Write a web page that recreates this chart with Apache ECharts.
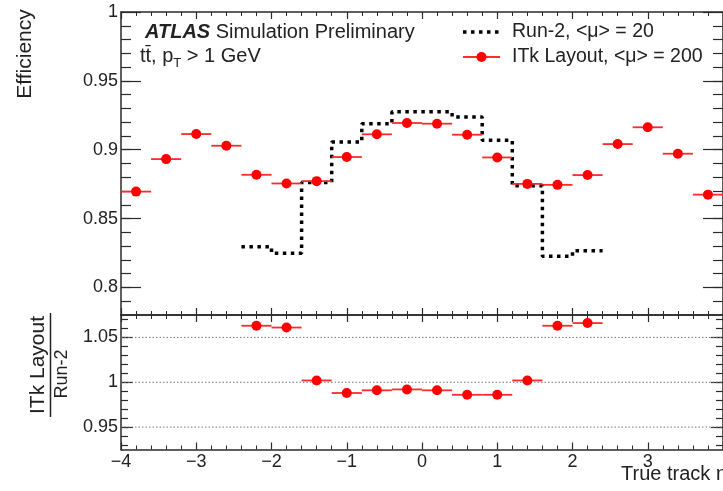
<!DOCTYPE html>
<html><head><meta charset="utf-8">
<script src="https://cdn.jsdelivr.net/npm/echarts@6/dist/echarts.min.js"></script>
<style>html,body{margin:0;padding:0;background:#fff}#c{width:723px;height:491px}</style>
</head><body><div id="c"></div>
<script>
// ---- data ----
const binCenters = [-3.8,-3.4,-3.0,-2.6,-2.2,-1.8,-1.4,-1.0,-0.6,-0.2,0.2,0.6,1.0,1.4,1.8,2.2,2.6,3.0,3.4,3.8];
const itkEff = [0.8696,0.8932,0.9114,0.9029,0.8818,0.8755,0.8772,0.8947,0.9112,0.9194,0.9189,0.9109,0.8944,0.8752,0.8745,0.8816,0.9041,0.9163,0.8971,0.8674];
const run2Edges = [-2.4,-2.0,-1.6,-1.2,-0.8,-0.4,0.0,0.4,0.8,1.2,1.6,2.0,2.4];
const run2Eff = [0.8296,0.8248,0.8762,0.9056,0.9189,0.9275,0.9275,0.9238,0.9068,0.8738,0.8227,0.8267];
const ratioCenters = [-2.2,-1.8,-1.4,-1.0,-0.6,-0.2,0.2,0.6,1.0,1.4,1.8,2.2];
const ratioVals = [1.063,1.061,1.002,0.988,0.991,0.992,0.991,0.986,0.986,1.002,1.063,1.066];
const ratioRefLines = [0.95,1,1.05];
const xTickLabels = ['\u22124','\u22123','\u22122','\u22121','0','1','2','3'];
const effTicks = [0.8,0.85,0.9,0.95,1];
const effTickLabels = ['0.8','0.85','0.9','0.95','1'];
const ratioTicks = [0.95,1,1.05];
const ratioTickLabels = ['0.95','1','1.05'];
const binHalfWidth = 0.2;

const FONT = '"Liberation Sans", Arial, Helvetica, sans-serif';
const AX = '#2a2a2a';
const RED = '#ff0000';

function minorList(a, b, step) { const r = []; for (let v = a; v <= b + 1e-9; v += step) r.push(Math.round(v * 1000) / 1000); return r; }
const effMinor = minorList(0.79, 0.99, 0.01);
const ratioMinor = minorList(0.93, 1.07, 0.01);

function xAx(grid, pos, labels) {
  return {
    type: 'value', gridIndex: grid, position: pos, min: -4, max: 4, interval: 1,
    axisLine: { show: true, onZero: false, lineStyle: { color: AX, width: 1.5 } },
    axisTick: { show: true, inside: true, length: 7, lineStyle: { color: AX, width: 1.2 } },
    minorTick: { show: true, splitNumber: 5, length: 4, lineStyle: { color: AX, width: 1 } },
    splitLine: { show: false },
    axisLabel: labels ? {
      show: true, margin: 4, fontSize: 18, fontFamily: FONT, color: '#222', showMaxLabel: false,
      formatter: v => { const i = Math.round(v) + 4; return xTickLabels[i] !== undefined ? xTickLabels[i] : ''; }
    } : { show: false }
  };
}
function yAx(grid, pos, min, max, ticks, tlabels, len, showLine, showLabels) {
  return {
    type: 'value', gridIndex: grid, position: pos, min: min, max: max,
    axisLine: { show: showLine, onZero: false, lineStyle: { color: AX, width: 1.5 } },
    axisTick: { show: true, inside: true, length: len, customValues: ticks, lineStyle: { color: AX, width: 1.2 } },
    splitLine: { show: false },
    axisLabel: showLabels ? {
      show: true, margin: 3, fontSize: 18, fontFamily: FONT, color: '#222', customValues: ticks,
      formatter: v => { const i = ticks.findIndex(t => Math.abs(t - v) < 1e-6); return i >= 0 ? tlabels[i] : ''; }
    } : { show: false }
  };
}

// step line points for Run-2 histogram
const run2Pts = run2Eff.map((v, i) => [run2Edges[i], v]);
run2Pts.push([run2Edges[run2Edges.length - 1], run2Eff[run2Eff.length - 1]]);

function pointRender(params, api) {
  const x = api.value(0), y = api.value(1);
  const p0 = api.coord([x - binHalfWidth, y]), p1 = api.coord([x + binHalfWidth, y]), c = api.coord([x, y]);
  return { type: 'group', children: [
    { type: 'line', shape: { x1: p0[0], y1: p0[1], x2: p1[0], y2: p1[1] }, style: { stroke: '#ff2a2a', lineWidth: 1.8 } },
    { type: 'circle', shape: { cx: c[0], cy: c[1], r: 5 }, style: { fill: RED } }
  ] };
}

// text measure for subscript placement
const mctx = document.createElement('canvas').getContext('2d');
function tw(txt, size) { mctx.font = size + 'px ' + FONT; return mctx.measureText(txt).width; }
const line2a = 'tt\u0304, p';
const line2aW = tw(line2a, 20);
const subW = tw('T', 13);

const chart = echarts.init(document.getElementById('c'), null, { renderer: 'canvas' });
chart.setOption({
  animation: false,
  backgroundColor: '#fff',
  grid: [
    { left: 121, top: 12, width: 606, height: 303 },
    { left: 121, top: 315, width: 606, height: 134.5 }
  ],
  xAxis: [ xAx(0, 'bottom', false), xAx(0, 'top', false), xAx(1, 'bottom', true), xAx(1, 'top', false) ],
  yAxis: [
    yAx(0, 'left', 0.78, 1.0, effTicks, effTickLabels, 20, true, true),
    yAx(0, 'left', 0.78, 1.0, effMinor, [], 10, false, false),
    yAx(0, 'right', 0.78, 1.0, effTicks, effTickLabels, 20, true, false),
    yAx(0, 'right', 0.78, 1.0, effMinor, [], 10, false, false),
    yAx(1, 'left', 0.925, 1.075, ratioTicks, ratioTickLabels, 12, true, true),
    yAx(1, 'left', 0.925, 1.075, ratioMinor, [], 7, false, false),
    yAx(1, 'right', 0.925, 1.075, ratioTicks, ratioTickLabels, 12, true, false),
    yAx(1, 'right', 0.925, 1.075, ratioMinor, [], 7, false, false)
  ],
  series: [
    { type: 'line', name: 'Run-2', xAxisIndex: 0, yAxisIndex: 0, step: 'end', data: run2Pts, symbol: 'none',
      lineStyle: { color: '#000', width: 3.5, type: [3.5, 4.5] }, z: 2 },
    { type: 'custom', name: 'ITk', xAxisIndex: 0, yAxisIndex: 0, data: binCenters.map((x, i) => [x, itkEff[i]]), renderItem: pointRender, z: 3 },
    { type: 'custom', name: 'ref', xAxisIndex: 2, yAxisIndex: 4, data: ratioRefLines.map(v => [0, v]), z: 1,
      renderItem: (params, api) => {
        const y = api.value(1); const a = api.coord([-4, y]), b = api.coord([4, y]);
        return { type: 'line', shape: { x1: a[0], y1: a[1], x2: b[0], y2: b[1] }, style: { stroke: '#777', lineWidth: 1, lineDash: [1.5, 2] } };
      } },
    { type: 'custom', name: 'ratio', xAxisIndex: 2, yAxisIndex: 4, data: ratioCenters.map((x, i) => [x, ratioVals[i]]), renderItem: pointRender, z: 3 }
  ],
  graphic: [
    { type: 'text', x: 25, y: 54, rotation: Math.PI / 2,
      style: { text: 'Efficiency', font: '21px ' + FONT, fill: '#222', align: 'center', verticalAlign: 'middle' } },
    { type: 'text', x: 38, y: 365, rotation: Math.PI / 2,
      style: { text: 'ITk Layout', font: '21px ' + FONT, fill: '#222', align: 'center', verticalAlign: 'middle' } },
    { type: 'line', shape: { x1: 50.5, y1: 313, x2: 50.5, y2: 417 }, style: { stroke: '#222', lineWidth: 1.5 } },
    { type: 'text', x: 62, y: 374, rotation: Math.PI / 2,
      style: { text: 'Run-2', font: '18px ' + FONT, fill: '#222', align: 'center', verticalAlign: 'middle' } },
    { type: 'text', x: 145, y: 32,
      style: { text: '{a|ATLAS} Simulation Preliminary', font: '20px ' + FONT, fill: '#222', align: 'left', verticalAlign: 'middle',
        rich: { a: { fontWeight: 'bold', fontStyle: 'italic', fontSize: 20, fontFamily: FONT, fill: '#222' } } } },
    { type: 'text', x: 140, y: 56,
      style: { text: line2a, font: '20px ' + FONT, fill: '#222', align: 'left', verticalAlign: 'middle' } },
    { type: 'text', x: 140 + line2aW, y: 63,
      style: { text: 'T', font: '13px ' + FONT, fill: '#222', align: 'left', verticalAlign: 'middle' } },
    { type: 'text', x: 140 + line2aW + subW, y: 56,
      style: { text: ' > 1 GeV', font: '20px ' + FONT, fill: '#222', align: 'left', verticalAlign: 'middle' } },
    { type: 'line', shape: { x1: 463, y1: 32, x2: 499, y2: 32 }, style: { stroke: '#000', lineWidth: 3.5, lineDash: [3.5, 4.5] } },
    { type: 'text', x: 512, y: 32,
      style: { text: 'Run-2, <\u03bc> = 20', font: '19.5px ' + FONT, fill: '#222', align: 'left', verticalAlign: 'middle' } },
    { type: 'line', shape: { x1: 463, y1: 57, x2: 500, y2: 57 }, style: { stroke: '#ff2a2a', lineWidth: 1.8 } },
    { type: 'circle', shape: { cx: 481.5, cy: 57, r: 5 }, style: { fill: RED } },
    { type: 'text', x: 512, y: 57,
      style: { text: 'ITk Layout, <\u03bc> = 200', font: '19.5px ' + FONT, fill: '#222', align: 'left', verticalAlign: 'middle' } },
    { type: 'text', x: 727, y: 474,
      style: { text: 'True track \u03b7', font: '20px ' + FONT, fill: '#222', align: 'right', verticalAlign: 'middle' } }
  ]
});
</script></body></html>
